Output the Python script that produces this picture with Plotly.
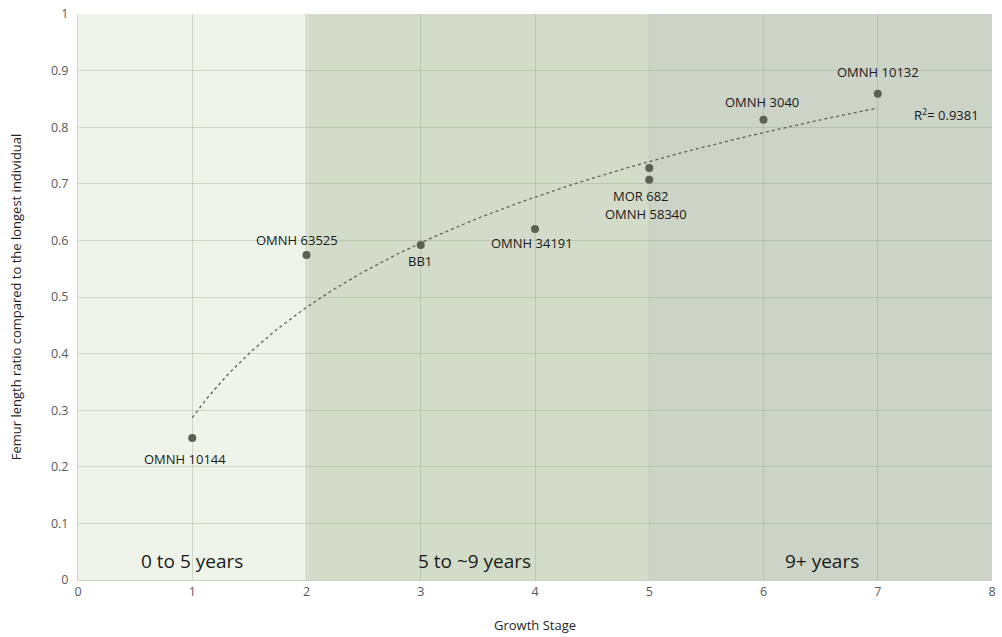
import numpy as np
import plotly.graph_objects as go

# Specimens: growth stage vs femur length ratio
specimens = ["OMNH 10144", "OMNH 63525", "BB1", "OMNH 34191",
             "MOR 682", "OMNH 58340", "OMNH 3040", "OMNH 10132"]
stages = [1, 2, 3, 4, 5, 5, 6, 7]
ratios = [0.251, 0.574, 0.592, 0.620, 0.728, 0.707, 0.813, 0.859]

# Label offsets (px) relative to each marker
label_dx = [-7, -10, -1, -3, -8, -3, -2, 0]
label_dy = [-21, 15, -16, -14, -28, -34, 18, 22]

# Age bands along the growth-stage axis
band_names = ["0 to 5 years", "5 to ~9 years", "9+ years"]
band_start = [0, 2, 5]
band_end = [2, 5, 8]
band_label_x = [1.0, 3.47, 6.51]
band_colors = ["#EFF4EA", "#D3DCC8", "#CCD3C7"]

r2_text = "R<sup>2</sup>= 0.9381"

# Logarithmic trendline fitted to the specimens
a, b = np.polyfit(np.log(stages), ratios, 1)
xt = np.linspace(1, 7, 200)
yt = a * np.log(xt) + b

fig = go.Figure()

fig.add_trace(go.Scatter(
    x=xt, y=yt, mode="lines",
    line=dict(color="#5E6458", width=1.3, dash="dot"),
    hoverinfo="skip", showlegend=False,
))
fig.add_trace(go.Scatter(
    x=stages, y=ratios, mode="markers",
    marker=dict(color="#5C6253", size=8),
    text=specimens, showlegend=False,
))

for x0, x1, col in zip(band_start, band_end, band_colors):
    fig.add_shape(type="rect", xref="x", yref="y", x0=x0, x1=x1, y0=0, y1=1,
                  fillcolor=col, line_width=0, layer="below")
fig.add_shape(type="line", xref="x", yref="y", x0=2, x1=2, y0=0, y1=1,
              line=dict(color="#E6E9E2", width=3), layer="below")

annotations = []
for name, x, y, dx, dy in zip(specimens, stages, ratios, label_dx, label_dy):
    annotations.append(dict(x=x, y=y, text=name, showarrow=False,
                            xshift=dx, yshift=dy,
                            font=dict(size=13, color="#1a1a1a")))
for name, x in zip(band_names, band_label_x):
    annotations.append(dict(x=x, y=0, yanchor="bottom", yshift=4, text=name,
                            showarrow=False,
                            font=dict(size=19, color="#1a1a1a")))
annotations.append(dict(x=7.6, y=0.822, text=r2_text, showarrow=False,
                        font=dict(size=13, color="#1a1a1a")))

grid = "rgba(140,155,130,0.32)"
fig.update_layout(
    width=1002, height=637,
    margin=dict(l=78, r=10, t=14, b=57),
    paper_bgcolor="white", plot_bgcolor="white",
    font=dict(family="Open Sans", color="#595959"),
    annotations=annotations,
    xaxis=dict(range=[0, 8], dtick=1, showgrid=True, gridcolor=grid,
               zeroline=False, showline=True, linecolor="#D0D3CC",
               ticks="", automargin=False,
               tickfont=dict(size=12.5, color="#595959"),
               title=dict(text="Growth Stage", standoff=21,
                          font=dict(size=13, color="#262626"))),
    yaxis=dict(range=[0, 1], dtick=0.1, showgrid=True, gridcolor=grid,
               zeroline=False, showline=True, linecolor="#D0D3CC",
               ticks="", ticklabelstandoff=6, automargin=False,
               tickfont=dict(size=12.5, color="#595959"),
               title=dict(text="Femur length ratio compared to the longest individual",
                          standoff=26, font=dict(size=13, color="#1f1f1f"))),
)

fig.write_html("out.html")
